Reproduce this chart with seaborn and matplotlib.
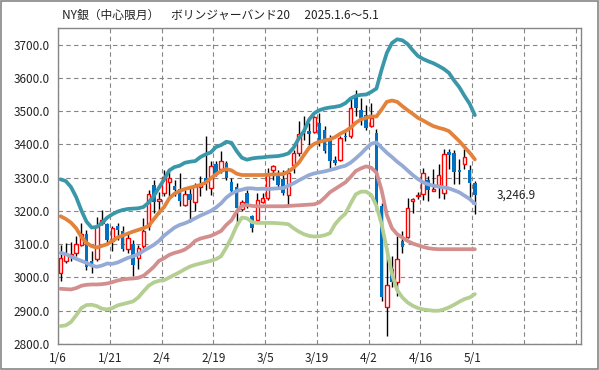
import matplotlib
matplotlib.use("Agg")
import matplotlib.pyplot as plt
import seaborn as sns
import numpy as np
import pandas as pd
from matplotlib.patches import Rectangle

# x-axis labels, one per 10 trading days (2025/1/6 - 5/1)
tick_labels = ['1/6', '1/21', '2/4', '2/19', '3/5', '3/19', '4/2', '4/16', '5/1', '', '']

# daily candles
open_ = [3012, 3051, 3064, 3074, 3099, 3131, 3049, 3056, 3164, 3161,
         3111, 3156, 3141, 3086, 3102, 3059, 3094, 3154, 3279, 3230,
         3254, 3287, 3276, 3266, 3217, 3252, 3227, 3272, 3299, 3269,
         3341, 3326, 3344, 3287, 3272, 3207, 3254, 3186, 3174, 3227,
         3239, 3324, 3311, 3297, 3249, 3339, 3374, 3440, 3441, 3437,
         3464, 3444, 3419, 3354, 3354, 3426, 3424, 3549, 3502, 3489,
         3455, 3433, 3215, 2910, 3025, 2985, 3110, 3123, 3230, 3245,
         3250, 3292, 3261, 3279, 3255, 3378, 3373, 3322, 3342, 3322,
         3285]
high = [3099, 3104, 3106, 3126, 3164, 3144, 3079, 3182, 3204, 3164,
        3154, 3164, 3154, 3134, 3114, 3099, 3179, 3264, 3294, 3258,
        3324, 3324, 3294, 3314, 3264, 3274, 3284, 3304, 3424, 3349,
        3349, 3379, 3351, 3299, 3284, 3234, 3264, 3189, 3254, 3254,
        3329, 3339, 3324, 3324, 3329, 3384, 3469, 3484, 3464, 3484,
        3494, 3454, 3429, 3364, 3424, 3439, 3539, 3564, 3539, 3519,
        3524, 3445, 3225, 3090, 3065, 3125, 3140, 3240, 3240, 3257,
        3330, 3305, 3325, 3340, 3385, 3385, 3383, 3357, 3385, 3337,
        3290]
low = [2989, 3044, 3049, 3064, 3094, 3022, 3014, 3049, 3159, 3104,
       3079, 3114, 3079, 3074, 3004, 3024, 3089, 3144, 3194, 3190,
       3244, 3244, 3244, 3216, 3214, 3166, 3199, 3244, 3264, 3249,
       3304, 3314, 3294, 3254, 3164, 3199, 3209, 3136, 3169, 3224,
       3234, 3294, 3269, 3249, 3219, 3314, 3364, 3414, 3399, 3434,
       3394, 3374, 3324, 3339, 3349, 3409, 3419, 3484, 3459, 3444,
       3452, 3200, 2930, 2825, 2970, 2945, 3075, 3120, 3195, 3235,
       3233, 3230, 3260, 3240, 3235, 3325, 3280, 3280, 3325, 3240,
       3190]
close = [3059, 3072, 3072, 3101, 3131, 3032, 3039, 3154, 3174, 3114,
         3149, 3142, 3086, 3119, 3039, 3089, 3139, 3251, 3226, 3237,
         3301, 3299, 3262, 3229, 3251, 3232, 3276, 3282, 3284, 3336,
         3311, 3349, 3299, 3259, 3209, 3226, 3212, 3149, 3232, 3239,
         3307, 3334, 3279, 3254, 3314, 3374, 3431, 3436, 3431, 3481,
         3409, 3379, 3349, 3344, 3419, 3421, 3509, 3509, 3479, 3449,
         3480, 3215, 2940, 2977, 2985, 3057, 3093, 3210, 3235, 3248,
         3315, 3263, 3265, 3308, 3372, 3368, 3317, 3317, 3361, 3285,
         3246.9]

# Bollinger band lines
up2 = [3295, 3290, 3272, 3242, 3202, 3168, 3150, 3152, 3164, 3180,
       3190, 3198, 3203, 3206, 3207, 3208, 3212, 3225, 3245, 3270,
       3295, 3322, 3332, 3336, 3345, 3348, 3350, 3362, 3370, 3376,
       3392, 3398, 3408, 3405, 3380, 3360, 3354, 3358, 3360, 3361,
       3363, 3364, 3365, 3368, 3373, 3390, 3418, 3440, 3475, 3494,
       3503, 3508, 3511, 3513, 3516, 3524, 3538, 3546, 3549, 3550,
       3558, 3568, 3625, 3675, 3705, 3716, 3713, 3702, 3683, 3666,
       3657, 3650, 3644, 3636, 3627, 3615, 3592, 3572, 3546, 3522,
       3488]
up1 = [3184, 3176, 3165, 3148, 3122, 3104, 3094, 3090, 3095, 3100,
       3110, 3120, 3126, 3132, 3138, 3143, 3148, 3155, 3175, 3195,
       3212, 3238, 3252, 3260, 3266, 3270, 3274, 3278, 3285, 3298,
       3310, 3320, 3326, 3322, 3312, 3308, 3308, 3308, 3308, 3308,
       3309, 3310, 3310, 3311, 3318, 3330, 3345, 3368, 3390, 3402,
       3408, 3412, 3415, 3422, 3432, 3440, 3450, 3465, 3475, 3480,
       3484, 3484, 3505, 3528, 3532, 3528, 3515, 3503, 3492, 3480,
       3472, 3463, 3455, 3450, 3446, 3440, 3425, 3410, 3392, 3375,
       3355]
ma20 = [3074, 3070, 3063, 3056, 3050, 3044, 3036, 3032, 3036, 3042,
        3041, 3045, 3052, 3059, 3064, 3070, 3080, 3089, 3098, 3110,
        3126, 3138, 3150, 3158, 3163, 3170, 3178, 3186, 3193, 3200,
        3210, 3223, 3240, 3252, 3260, 3264, 3268, 3268, 3266, 3267,
        3266, 3267, 3268, 3269, 3276, 3283, 3292, 3300, 3308, 3313,
        3316, 3319, 3323, 3327, 3332, 3336, 3345, 3358, 3372, 3388,
        3402, 3406, 3390, 3375, 3362, 3348, 3336, 3322, 3308, 3296,
        3286, 3280, 3276, 3273, 3271, 3268, 3262, 3256, 3246, 3236,
        3222]
dn1 = [2966, 2965, 2964, 2968, 2975, 2978, 2979, 2979, 2980, 2982,
       2986, 2991, 2994, 2996, 2997, 2999, 3005, 3018, 3032, 3050,
       3058, 3068, 3074, 3078, 3084, 3095, 3110, 3117, 3121, 3125,
       3132, 3140, 3158, 3172, 3198, 3215, 3218, 3215, 3214, 3214,
       3214, 3214, 3214, 3214, 3215, 3216, 3217, 3218, 3219, 3220,
       3226, 3240, 3256, 3266, 3276, 3286, 3302, 3320, 3328, 3334,
       3330, 3315, 3262, 3188, 3148, 3130, 3120, 3110, 3102, 3097,
       3092, 3088, 3086, 3085, 3085, 3085, 3085, 3085, 3085, 3085,
       3085]
dn2 = [2854, 2856, 2866, 2886, 2908, 2917, 2918, 2914, 2906, 2904,
       2908, 2916, 2920, 2924, 2928, 2940, 2958, 2975, 2985, 2990,
       2992, 3000, 3008, 3016, 3025, 3033, 3038, 3042, 3046, 3050,
       3055, 3064, 3090, 3120, 3155, 3180, 3178, 3166, 3164, 3164,
       3164, 3164, 3163, 3162, 3160, 3148, 3138, 3130, 3125, 3123,
       3124, 3127, 3133, 3160, 3178, 3192, 3222, 3250, 3258, 3258,
       3248, 3215, 3160, 3085, 3010, 2962, 2940, 2925, 2915, 2908,
       2904, 2902, 2900, 2900, 2904, 2910, 2918, 2927, 2935, 2940,
       2950]

band_colors = {'+2σ': '#3A97AA', '+1σ': '#E3823B', 'MA20': '#95ABD6',
               '-1σ': '#D38E8E', '-2σ': '#B5CE92'}
grid_color = '#868686'

sns.set_theme(style='white')
plt.rcParams['font.family'] = ['Noto Sans CJK JP', 'DejaVu Sans']

fig = plt.figure(figsize=(5.99, 3.70), dpi=100)
ax = fig.add_axes([58 / 599, 26 / 370, 523 / 599, 316 / 370])

# candles
x = np.arange(len(close))
o = np.array(open_, dtype=float)
c = np.array(close, dtype=float)
up = c >= o
ax.vlines(x, low, high, color='black', lw=1, zorder=2)
ax.bar(x[up], c[up] - o[up], bottom=o[up], width=0.68, facecolor='white',
       edgecolor='#FF0000', linewidth=1, zorder=3)
ax.bar(x[~up], o[~up] - c[~up], bottom=c[~up], width=0.68, color='#0070C0',
       linewidth=0, zorder=3)

# bands
bands = pd.DataFrame({'day': x, '+2σ': up2, '+1σ': up1, 'MA20': ma20,
                      '-1σ': dn1, '-2σ': dn2})
long = bands.melt('day', var_name='band', value_name='price')
sns.lineplot(data=long, x='day', y='price', hue='band', palette=band_colors,
             linewidth=2.7, legend=False, ax=ax, zorder=4)

ax.set_xlim(-0.5, 100.5)
ax.set_ylim(2800, 3750)
ax.set_yticks(np.arange(2800, 3701, 100))
ax.set_yticklabels([f'{v:.1f}' for v in np.arange(2800, 3701, 100)])
ax.set_xticks(np.arange(-0.5, 100, 10))
ax.set_xticklabels(tick_labels)
ax.set_xlabel('')
ax.set_ylabel('')
ax.grid(True, linestyle=(0, (4, 3)), color=grid_color, linewidth=0.8)
for s in ax.spines.values():
    s.set_color(grid_color)
    s.set_linewidth(1)
ax.tick_params(direction='out', length=4, width=1, color=grid_color,
               labelsize=8.5, labelcolor='#222222', pad=2)

ax.annotate(f'{close[-1]:,.1f}', xy=(x[-1], close[-1]), xytext=(22, 0),
            textcoords='offset pixels', va='center', ha='left',
            fontsize=8.5, color='#222222')

fig.text(62 / 599, 1 - 15 / 370,
         'NY銀（中心限月）　ボリンジャーバンド20　 2025.1.6〜5.1',
         ha='left', va='center', fontsize=8.5, color='#222222')

fig.patches.append(Rectangle((0.001, 0.002), 0.997, 0.995, transform=fig.transFigure,
                             fill=False, edgecolor=grid_color, linewidth=1.2))

fig.savefig('out.png', dpi=100)
